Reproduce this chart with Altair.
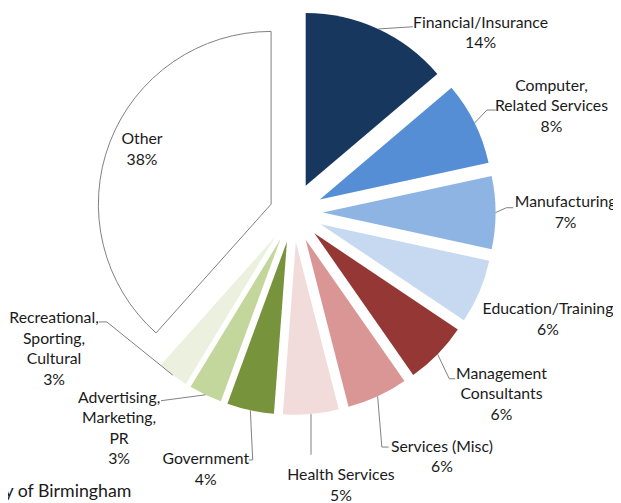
import altair as alt
import pandas as pd

# ---- data ----
categories = ["Financial/Insurance", "Computer, Related Services", "Manufacturing",
              "Education/Training", "Management Consultants", "Services (Misc)",
              "Health Services", "Government", "Advertising, Marketing, PR",
              "Recreational, Sporting, Cultural", "Other"]
label_lines = ["Financial/Insurance", "Computer,\nRelated Services", "Manufacturing",
               "Education/Training", "Management\nConsultants", "Services (Misc)",
               "Health Services", "Government", "Advertising,\nMarketing,\nPR",
               "Recreational,\nSporting,\nCultural", "Other"]
# shares (%); labels show them rounded
shares = [13.8, 7.8, 6.8, 6.0, 5.9, 5.7, 5.2, 4.4, 3.1, 2.9, 38.4]
colors = ["#17375E", "#558ED5", "#8EB4E3", "#C6D9F1", "#953735", "#D99694",
          "#F2DCDB", "#77933C", "#C3D69B", "#EBF1DE", "#FFFFFF"]
source_text = "University of Birmingham"

# ---- layout (pixels / degrees) ----
CX, CY, R = 289, 204, 175
LH = 20.8
explode = [30, 30, 30, 30, 30, 30, 30, 30, 30, 30, 24]
label_deg = [46.2, 67.6, 90.0, 112.8, 131.1, 148.7, 170.1, 198.8, 218.9, 240.3, 292.6]
label_r = [263, 283, 276, 280, 280, 290, 281, 275, 281, 279, 166]
leader_deg = [32.8, 62.1, 88.7, -1, 136.8, 159.3, 175.8, 189.3, 215.1, 239.6, -1]
leader_r = [224, 222, 216, 0, 231, 254, 246, 254, 233, 219, 0]
leader_hook = [0, 9, 7, 0, 6, 7, 0, -4, 0, -8, 0]

df = pd.DataFrame({
    "idx": list(range(len(categories))),
    "category": categories,
    "share": shares,
    "label": [f"{l}\n{round(s)}%" for l, s in zip(label_lines, shares)],
    "nlines": [l.count("\n") + 2 for l in label_lines],
    "fill": colors,
    "stroke": ["transparent"] * 10 + ["#7F7F7F"],
    "ex": explode,
    "ldg": label_deg,
    "lr": label_r,
    "ldeg": leader_deg,
    "lrad": leader_r,
    "hook": leader_hook,
})

base = alt.Chart(df).transform_window(
    cum="sum(share)", sort=[alt.SortField("idx")], frame=[None, 0]
).transform_joinaggregate(total="sum(share)").transform_calculate(
    mid="2*PI*(datum.cum - datum.share/2)/datum.total",
).transform_calculate(
    sx=f"{CX} + datum.ex*sin(datum.mid)",
    sy=f"{CY} - datum.ex*cos(datum.mid)",
    tx=f"{CX} + datum.lr*sin(datum.ldg*PI/180)",
    ty=f"{CY} - datum.lr*cos(datum.ldg*PI/180) - (datum.nlines-1)*{LH}/2",
).transform_calculate(
    ax=f"datum.sx + {R}*sin(datum.mid)",
    ay=f"datum.sy - {R}*cos(datum.mid)",
    ex2=f"{CX} + datum.lrad*sin(datum.ldeg*PI/180)",
    ey2=f"{CY} - datum.lrad*cos(datum.ldeg*PI/180)",
).transform_calculate(
    hx="datum.ex2 + datum.hook",
)

arcs = base.mark_arc(radius=R, strokeWidth=1).encode(
    theta=alt.Theta("share:Q", stack=True),
    order=alt.Order("idx:Q", sort="ascending"),
    x=alt.X("sx:Q", scale=None),
    y=alt.Y("sy:Q", scale=None),
    fill=alt.Fill("fill:N", scale=None),
    stroke=alt.Stroke("stroke:N", scale=None),
)

leaders = base.transform_filter("datum.ldeg >= 0").mark_rule(
    color="#7F7F7F", strokeWidth=1
).encode(
    x=alt.X("ax:Q", scale=None), y=alt.Y("ay:Q", scale=None),
    x2="ex2:Q", y2="ey2:Q",
)
hooks = base.transform_filter("datum.ldeg >= 0 && datum.hook != 0").mark_rule(
    color="#7F7F7F", strokeWidth=1
).encode(
    x=alt.X("ex2:Q", scale=None), y=alt.Y("ey2:Q", scale=None),
    x2="hx:Q", y2="ey2:Q",
)

labels = base.mark_text(
    font="Lato", fontSize=16, color="#1A1A1A", lineBreak="\n",
    lineHeight=LH, align="center", baseline="middle",
).encode(
    x=alt.X("tx:Q", scale=None), y=alt.Y("ty:Q", scale=None),
    text="label:N",
)

source = alt.Chart(pd.DataFrame({"t": [source_text]})).mark_text(
    font="Lato", fontSize=18, color="#1A1A1A", align="right", baseline="middle",
).encode(x=alt.value(125), y=alt.value(487), text="t:N")

chart = alt.layer(arcs, leaders, hooks, labels, source).properties(
    width=613, height=495, padding=0,
    autosize=alt.AutoSizeParams(type="none"),
).configure_view(stroke=None)

chart.save("out.html", embed_options={"renderer": "svg", "actions": False})
